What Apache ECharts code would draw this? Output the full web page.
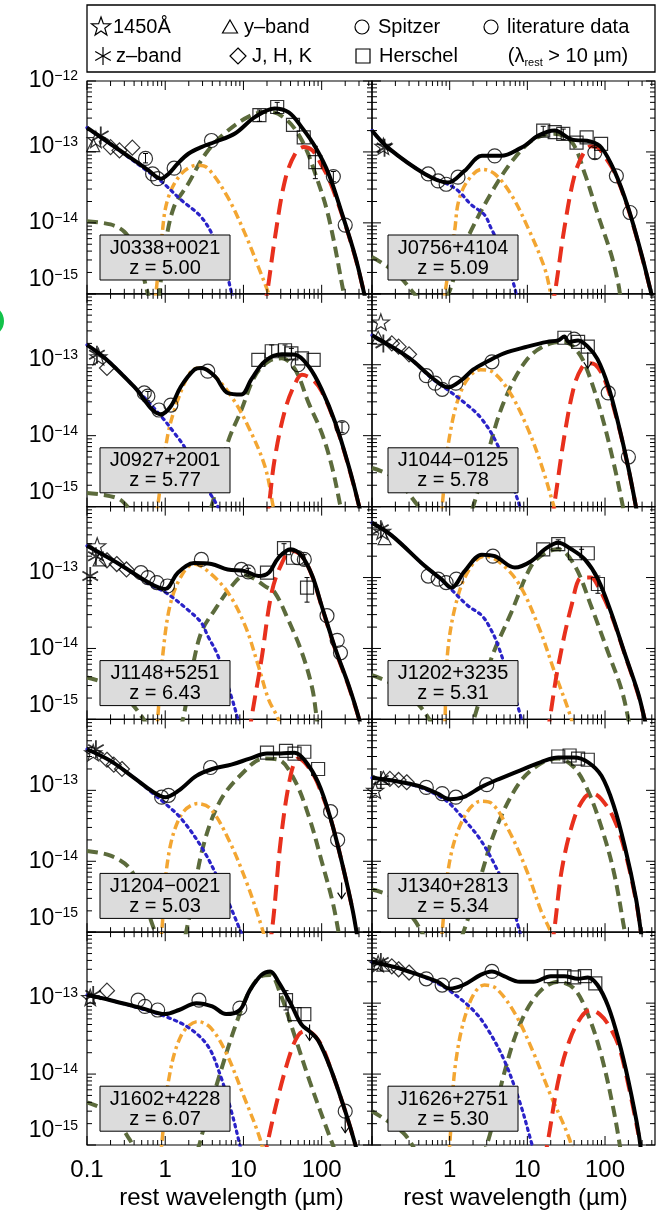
<!DOCTYPE html>
<html>
<head>
<meta charset="utf-8">
<script src="https://cdn.jsdelivr.net/npm/echarts@6/dist/echarts.min.js"></script>
<style>
  html, body { margin: 0; padding: 0; background: #fff; }
  #chart { width: 661px; height: 1213px; }
</style>
</head>
<body>
<div id="chart"></div>
<script>
// ---- axis ranges and tick labels ----
const X_MIN = 0.1, X_MAX = 440;          // rest wavelength (micron)
const Y_MIN = 1e-15, Y_MAX = 1e-12;      // nu F_nu
const xTickLabels = ['0.1', '1', '10', '100'];
const objectNames = ['J0338+0021', 'J0756+4104', 'J0927+2001', 'J1044\u22120125', 'J1148+5251',
                     'J1202+3235', 'J1204\u22120021', 'J1340+2813', 'J1602+4228', 'J1626+2751'];
const redshifts = ['5.00', '5.09', '5.77', '5.78', '6.43', '5.31', '5.03', '5.34', '6.07', '5.30'];

// ---- J0338+0021 ----
const j0338Total = [[0.1,2.2e-13],[0.3,9.5e-14],[0.6,5.6e-14],[0.88,4.2e-14],[1.1,4.9e-14],[1.45,6.9e-14],[2.0,9.5e-14],[2.9,1.17e-13],[4.3,1.38e-13],[7.8,1.82e-13],[14,3.1e-13],[25,4.1e-13],[38,3.6e-13],[56,2.2e-13],[83,1.17e-13],[123,4.9e-14],[182,1.35e-14],[270,3.3e-15],[350,1e-15],[400,5e-16]];
const j0338Disk = [[0.1,2.2e-13],[0.3,9.3e-14],[0.6,5.3e-14],[0.88,3.9e-14],[1.6,2.1e-14],[2.9,1.2e-14],[4.3,5.8e-15],[5.8,2.4e-15],[7.1,1e-15],[8,6e-16]];
const j0338Hot = [[0.72,6e-16],[0.76,1e-15],[0.9,6e-15],[1.07,2.1e-14],[1.6,4.9e-14],[2.6,6.5e-14],[3.5,5.9e-14],[6.3,2.3e-14],[10.5,7e-15],[15.5,2.4e-15],[21,1e-15],[24,6e-16]];
const j0338Torus = [[0.1,1.05e-14],[0.2,9.5e-15],[0.3,7.5e-15],[0.4,4.5e-15],[0.5,2.2e-15],[0.6,1e-15],[0.7,6e-16],[0.8,7e-16],[0.9,2e-15],[1.0,5e-15],[1.3,1.7e-14],[1.95,3.5e-14],[3.3,9.5e-14],[6,1.9e-13],[12,3.2e-13],[21,3.7e-13],[35,2.9e-13],[56,1.45e-13],[83,4.9e-14],[123,1.2e-14],[192,1e-15],[210,6e-16]];
const j0338Cold = [[18,6e-16],[20,1e-15],[25,5.7e-15],[34,4e-14],[46,9.5e-14],[59,1.17e-13],[76,1.05e-13],[100,6.5e-14],[123,4.2e-14],[182,1.3e-14],[270,3.2e-15],[350,1e-15]];
const j0338Star = [[0.13,1.5e-13]];
const j0338Zband = [[0.15,1.7e-13]];
const j0338Yband = [[0.12,1.25e-13]];
const j0338Jhk = [[0.2,1.17e-13],[0.26,1.05e-13],[0.38,1.15e-13]];
const j0338Circ = [[0.56,8.1e-14],[0.69,4.9e-14],[0.8,4.2e-14],[1.3,5.9e-14],[3.9,1.45e-13],[141,4.5e-14],[200,9.3e-15]];
const j0338Herschel = [[16,3.3e-13],[27,4.3e-13],[43,2.4e-13],[59,1.6e-13],[83,7.2e-14]];
const j0338Err = [[16,2.7e-13,3.9e-13],[27,3.6e-13,5e-13],[83,4.2e-14,1.2e-13],[141,3.8e-14,5.3e-14],[0.56,7e-14,9.5e-14]];
const j0338Lim = [];

// ---- J0756+4104 ----
const j0756Total = [[0.1,2e-13],[0.16,1.15e-13],[0.48,4.9e-14],[0.95,3.7e-14],[1.55,5.4e-14],[2.6,8.8e-14],[4.6,8.8e-14],[8.4,1.15e-13],[10,1.3e-13],[13.8,1.7e-13],[22.5,2e-13],[37,1.5e-13],[66,1.4e-13],[90,1.15e-13],[132,5.4e-14],[198,1.65e-14],[295,3.6e-15],[395,1e-15],[440,6e-16]];
const j0756Disk = [[0.1,2e-13],[0.16,1.15e-13],[0.48,4.9e-14],[0.95,3.5e-14],[1.3,2.8e-14],[1.9,1.8e-14],[2.8,1.3e-14],[3.4,8.5e-15],[5,3.5e-15],[6.9,1.2e-15],[7.5,7e-16]];
const j0756Hot = [[0.85,6e-16],[0.87,1e-15],[1.16,7.8e-15],[1.3,2e-14],[1.7,3.9e-14],[2.6,5.7e-14],[3.8,4.9e-14],[6.2,2.5e-14],[10.2,8.5e-15],[16.7,2.3e-15],[20,1e-15],[22,6e-16]];
const j0756Torus = [[0.1,3.3e-15],[0.2,2e-15],[0.35,1e-15],[0.5,6e-16],[0.8,7e-16],[1.0,1.1e-15],[1.3,2.8e-15],[1.8,7e-15],[3.8,3.2e-14],[6.9,8.3e-14],[12,1.5e-13],[22,1.8e-13],[37,1.4e-13],[55,4.9e-14],[81,1.3e-14],[120,3.6e-15],[148,1.4e-15],[160,8e-16]];
const j0756Cold = [[20,6e-16],[22.5,1e-15],[30,8.5e-15],[41,4.9e-14],[55,1.03e-13],[66,1.2e-13],[81,1.15e-13],[100,8.5e-14],[132,5.2e-14],[198,1.6e-14],[295,3.5e-15],[395,1e-15]];
const j0756Star = [[0.14,1.2e-13]];
const j0756Zband = [[0.145,1.15e-13]];
const j0756Yband = [];
const j0756Jhk = [];
const j0756Circ = [[0.53,4.9e-14],[0.71,3.9e-14],[0.9,3.5e-14],[1.28,4.4e-14],[3.8,8.8e-14],[74,9.8e-14],[140,4.6e-14],[210,1.4e-14]];
const j0756Herschel = [[16,2e-13],[22.5,1.9e-13],[29,1.8e-13],[43,1.35e-13],[58,1.6e-13],[89,1.3e-13]];
const j0756Err = [[16,1.7e-13,2.3e-13],[29,1.5e-13,2.1e-13],[74,8e-14,1.15e-13]];
const j0756Lim = [];

// ---- J0927+2001 ----
const j0927Total = [[0.1,1.9e-13],[0.18,1.17e-13],[0.4,4.9e-14],[0.88,2e-14],[1.18,2.6e-14],[1.58,4.9e-14],[2.35,8.5e-14],[2.9,9e-14],[4.3,6.9e-14],[6.3,4e-14],[9.4,3.8e-14],[12.6,6.2e-14],[18.8,1.12e-13],[31,1.4e-13],[46,1.38e-13],[68,9.5e-14],[100,4.5e-14],[150,1.5e-14],[222,3.7e-15],[302,1e-15],[330,6e-16]];
const j0927Disk = [[0.1,1.9e-13],[0.18,1.17e-13],[0.4,4.9e-14],[0.88,1.9e-14],[1.3,1.1e-14],[1.75,7e-15],[2.9,2.4e-15],[4.7,1e-15],[5.5,6e-16]];
const j0927Hot = [[0.75,6e-16],[0.8,1e-15],[1.07,9.8e-15],[1.45,3.2e-14],[2.15,8.1e-14],[2.9,9e-14],[4.3,6.9e-14],[7.1,3.5e-14],[11.5,1.35e-14],[18.8,3.7e-15],[24,1e-15],[26,6e-16]];
const j0927Torus = [[0.1,1.55e-15],[0.25,1.3e-15],[0.4,8e-16],[1,4e-16],[3,5e-16],[3.9,1e-15],[6.3,8e-15],[9.4,2.3e-14],[14,6.9e-14],[21,1.12e-13],[31,1.23e-13],[46,8.5e-14],[68,2.9e-14],[100,1.1e-14],[135,3.7e-15],[174,1e-15],[190,6e-16]];
const j0927Cold = [[19,6e-16],[21,1e-15],[25,4.6e-15],[34,2.3e-14],[46,5.5e-14],[56,7.2e-14],[76,6.2e-14],[100,4.2e-14],[150,1.45e-14],[222,3.6e-15],[302,1e-15]];
const j0927Star = [[0.14,1.3e-13]];
const j0927Zband = [[0.134,1.38e-13]];
const j0927Yband = [];
const j0927Jhk = [[0.18,9e-14]];
const j0927Circ = [[0.54,4e-14],[0.6,3.6e-14],[0.83,2.3e-14],[1.18,2.7e-14],[3.5,8.1e-14],[50,1e-13],[182,1.3e-14]];
const j0927Herschel = [[15.5,1.17e-13],[23,1.55e-13],[34,1.6e-13],[41,1.45e-13],[56,1.23e-13],[79,1.17e-13]];
const j0927Err = [[23,1.3e-13,1.9e-13],[34,1.35e-13,1.9e-13],[41,1.2e-13,1.7e-13],[182,1.1e-14,1.55e-14],[0.6,3.1e-14,4.2e-14]];
const j0927Lim = [];

// ---- J1044-0125 ----
const j1044Total = [[0.1,2.6e-13],[0.3,1.25e-13],[0.6,6.5e-14],[0.95,4.8e-14],[1.4,6e-14],[2,8.5e-14],[3,1.1e-13],[5,1.45e-13],[10,1.8e-13],[18,2.1e-13],[25,2.2e-13],[30,2.5e-13],[34,2.1e-13],[45,2.2e-13],[60,1.8e-13],[80,1.2e-13],[110,5e-14],[150,1.4e-14],[200,3.5e-15],[250,1e-15],[270,6e-16]];
const j1044Disk = [[0.1,2.6e-13],[0.3,1.25e-13],[0.6,6.3e-14],[0.95,4.4e-14],[1.5,3e-14],[2.5,1.8e-14],[4,8e-15],[6,2.5e-15],[8,1e-15],[9,6e-16]];
const j1044Hot = [[0.78,6e-16],[0.8,1e-15],[1.0,1e-14],[1.5,5e-14],[2.5,8.5e-14],[3.5,8e-14],[6,4e-14],[10,1.3e-14],[15,4e-15],[22,1e-15],[25,6e-16]];
const j1044Torus = [[0.1,3.5e-15],[0.2,2.5e-15],[0.4,1e-15],[0.6,6e-16],[1.5,5e-16],[2,1e-15],[3,5e-15],[5,3e-14],[10,1.2e-13],[20,2e-13],[30,2.1e-13],[45,1.5e-13],[60,8e-14],[90,2e-14],[130,4e-15],[170,1e-15],[185,6e-16]];
const j1044Cold = [[20,6e-16],[22,1e-15],[30,1e-14],[40,5e-14],[50,9e-14],[60,1.05e-13],[75,1e-13],[100,6e-14],[150,1.35e-14],[200,3.4e-15],[250,1e-15]];
const j1044Star = [[0.13,4e-13]];
const j1044Zband = [[0.14,2e-13]];
const j1044Yband = [[0.12,2.4e-13]];
const j1044Jhk = [[0.18,2e-13],[0.22,1.8e-13],[0.3,1.4e-13]];
const j1044Circ = [[0.5,7e-14],[0.65,5.5e-14],[0.8,4.5e-14],[1.2,5.5e-14],[3.5,1.1e-13],[40,2.3e-13],[110,4e-14],[200,5e-15]];
const j1044Herschel = [[30,2.4e-13],[45,2.1e-13],[60,1.8e-13]];
const j1044Err = [];
const j1044Lim = [[60,1.5e-13]];

// ---- J1148+5251 ----
const j1148Total = [[0.1,2.8e-13],[0.245,1.6e-13],[0.66,8.1e-14],[1,6.9e-14],[1.45,1.17e-13],[2.35,1.6e-13],[3.9,1.55e-13],[6.3,1.3e-13],[10.5,1.23e-13],[15.5,1.05e-13],[21,1.17e-13],[28,1.9e-13],[40,2.5e-13],[56,2e-13],[76,1.05e-13],[100,4e-14],[150,9.8e-15],[222,3e-15],[302,1e-15],[330,6e-16]];
const j1148Disk = [[0.1,2.8e-13],[0.245,1.6e-13],[0.66,7.8e-14],[1,6.2e-14],[1.95,3.5e-14],[2.9,2.3e-14],[3.5,1.5e-14],[4.7,8e-15],[7.1,2e-15],[8.5,1e-15],[9.5,6e-16]];
const j1148Hot = [[0.78,6e-16],[0.8,1e-15],[0.95,1e-14],[1.18,4.5e-14],[1.66,1.12e-13],[2.35,1.55e-13],[3.5,1.23e-13],[6.3,6.2e-14],[10.5,2.1e-14],[15.5,5.7e-15],[21,1.9e-15],[28,1e-15],[31,6e-16]];
const j1148Torus = [[0.1,3.9e-15],[0.2,3e-15],[0.35,1.8e-15],[0.5,1.1e-15],[0.72,6e-16],[1.2,4e-16],[1.6,8e-16],[2.2,5e-15],[2.9,1.7e-14],[4.3,3.5e-14],[7.1,7.6e-14],[10.5,1.08e-13],[14,9.5e-14],[19,7.5e-14],[25,6.2e-14],[37,2.6e-14],[56,8.7e-15],[76,2.7e-15],[87,1e-15],[95,6e-16]];
const j1148Cold = [[12,6e-16],[12.6,1e-15],[17,7e-15],[23,6.2e-14],[31,1.6e-13],[41,2.4e-13],[56,2e-13],[76,1.03e-13],[100,3.9e-14],[150,9.5e-15],[222,2.9e-15],[302,1e-15]];
const j1148Star = [[0.135,2.8e-13]];
const j1148Zband = [[0.11,1.05e-13],[0.13,2e-13]];
const j1148Yband = [[0.145,1.8e-13]];
const j1148Jhk = [[0.18,1.75e-13],[0.24,1.55e-13],[0.32,1.3e-13]];
const j1148Circ = [[0.49,1.17e-13],[0.6,1e-13],[0.78,8.5e-14],[1.07,7.6e-14],[2.9,1.8e-13],[9.4,1.3e-13],[11.5,1.2e-13],[50,1.9e-13],[60,1.8e-13],[117,2.9e-14],[158,1.3e-14],[174,8.7e-15]];
const j1148Herschel = [[20,1.17e-13],[33,2.6e-13],[43,1.9e-13],[65,7.2e-14]];
const j1148Err = [[33,2.2e-13,3e-13],[65,4.5e-14,1e-13],[60,1.5e-13,2.1e-13],[11.5,1.05e-13,1.35e-13]];
const j1148Lim = [];

// ---- J1202+3235 ----
const j1202Total = [[0.1,5.9e-13],[0.18,3.9e-13],[0.48,1.45e-13],[0.78,9.5e-14],[1.05,7.2e-14],[1.56,1.23e-13],[2.6,2.1e-13],[3.8,2e-13],[6.9,1.38e-13],[11.2,1.7e-13],[16.7,2.5e-13],[25,3.1e-13],[37,2.5e-13],[55,1.8e-13],[81,9.5e-14],[120,3.2e-14],[178,8.7e-15],[265,2.4e-15],[324,1e-15],[360,6e-16]];
const j1202Disk = [[0.1,5.9e-13],[0.18,3.9e-13],[0.48,1.45e-13],[0.78,9.3e-14],[1.05,6.8e-14],[1.72,4e-14],[2.6,2.9e-14],[3.4,1.85e-14],[4.2,1.1e-14],[6.2,3e-15],[8.4,1e-15],[9,6e-16]];
const j1202Hot = [[0.85,6e-16],[0.87,1e-15],[0.95,9.8e-15],[1.28,5.5e-14],[1.9,1.45e-13],[2.8,2e-13],[4.2,1.7e-13],[7.6,8.5e-14],[13.8,2.1e-14],[22.5,4.6e-15],[37,1e-15],[40,6e-16]];
const j1202Torus = [[0.1,4.2e-15],[0.2,3e-15],[0.4,1.6e-15],[0.78,6e-16],[1.5,4e-16],[2.1,1.1e-15],[3.4,7e-15],[6.2,3.2e-14],[11.2,1.45e-13],[16.7,2.2e-13],[25,2.5e-13],[41,1.45e-13],[66,4e-14],[110,8.7e-15],[162,2.7e-15],[200,1e-15],[215,6e-16]];
const j1202Cold = [[18,6e-16],[19.4,1e-15],[25,5.7e-15],[37,4e-14],[50,1e-13],[66,1e-13],[81,7.6e-14],[120,3e-14],[178,8.5e-15],[265,2.3e-15],[324,1e-15]];
const j1202Star = [[0.135,4.5e-13]];
const j1202Zband = [[0.13,4.8e-13]];
const j1202Yband = [[0.145,3.6e-13]];
const j1202Jhk = [];
const j1202Circ = [[0.53,1.05e-13],[0.71,9.5e-14],[0.9,8.5e-14],[1.22,9.5e-14],[3.6,2e-13]];
const j1202Herschel = [[16,2.5e-13],[25,2.95e-13],[41,2.2e-13],[60,2.2e-13],[81,8.1e-14]];
const j1202Err = [[25,2.6e-13,3.4e-13],[50,1.9e-13,2.5e-13],[81,6e-14,1.05e-13]];
const j1202Lim = [];

// ---- J1204-0021 ----
const j1204Total = [[0.1,3.8e-13],[0.2,2.6e-13],[0.4,1.5e-13],[0.7,9.5e-14],[1.0,8e-14],[1.5,1e-13],[2.5,1.6e-13],[4,2e-13],[7,2.3e-13],[12,2.8e-13],[20,3.3e-13],[30,3.3e-13],[45,3.4e-13],[60,2.7e-13],[90,1.3e-13],[130,4e-14],[180,1e-14],[250,2e-15],[300,6e-16]];
const j1204Disk = [[0.1,3.8e-13],[0.2,2.6e-13],[0.4,1.5e-13],[0.7,9e-14],[1,6.5e-14],[1.6,4e-14],[3,1.5e-14],[5,5e-15],[8,1.5e-15],[10,8e-16]];
const j1204Hot = [[0.85,6e-16],[0.9,1e-15],[1.1,1.2e-14],[1.6,4.5e-14],[2.6,6.5e-14],[3.8,5.5e-14],[6.5,2e-14],[11,5e-15],[16,1.5e-15],[19,8e-16]];
const j1204Torus = [[0.1,1.4e-14],[0.2,1.2e-14],[0.35,8e-15],[0.5,3.5e-15],[0.7,1.2e-15],[0.9,6e-16],[1.4,5e-16],[2,1.5e-15],[3,1.5e-14],[5,7e-14],[10,1.8e-13],[18,2.8e-13],[28,2.7e-13],[45,1.4e-13],[70,4e-14],[100,1e-14],[140,2.5e-15],[170,8e-16]];
const j1204Cold = [[20,6e-16],[23,1e-15],[30,2e-14],[40,1.6e-13],[50,2.8e-13],[60,2.5e-13],[80,1.6e-13],[100,9e-14],[130,4e-14],[180,1e-14],[250,2e-15]];
const j1204Star = [[0.12,3.4e-13]];
const j1204Zband = [[0.13,3.8e-13]];
const j1204Yband = [];
const j1204Jhk = [[0.18,2.7e-13],[0.22,2.3e-13],[0.28,2e-13]];
const j1204Circ = [[0.9,8e-14],[1.1,8.5e-14],[3.8,2.1e-13],[130,5e-14],[160,2e-14]];
const j1204Herschel = [[20,3.4e-13],[35,3.6e-13],[45,3.3e-13],[60,3.5e-13],[90,2e-13]];
const j1204Err = [];
const j1204Lim = [[180,5e-15]];

// ---- J1340+2813 ----
const j1340Total = [[0.1,1.5e-13],[0.2,1.35e-13],[0.4,1.15e-13],[0.7,9e-14],[1.0,7.5e-14],[1.5,8e-14],[2.5,1.1e-13],[4,1.4e-13],[8,1.9e-13],[15,2.5e-13],[25,2.9e-13],[40,2.9e-13],[60,2.5e-13],[90,1.6e-13],[130,6e-14],[180,1.6e-14],[250,3e-15],[290,1e-15],[310,6e-16]];
const j1340Disk = [[0.1,1.5e-13],[0.2,1.35e-13],[0.4,1.12e-13],[0.7,8.5e-14],[1,6.5e-14],[1.5,4e-14],[2.5,2e-14],[4,8e-15],[6,3e-15],[8,1e-15],[9,6e-16]];
const j1340Hot = [[0.78,6e-16],[0.8,1e-15],[1.0,1e-14],[1.5,4e-14],[2.5,7e-14],[3.5,6.5e-14],[6,2.5e-14],[10,7e-15],[15,2e-15],[20,1e-15],[22,6e-16]];
const j1340Torus = [[0.1,4e-15],[0.2,3e-15],[0.35,1.5e-15],[0.5,8e-16],[1,4e-16],[1.5,1e-15],[2.5,6e-15],[4,3e-14],[8,1.3e-13],[15,2.4e-13],[25,2.8e-13],[40,2.1e-13],[60,1e-13],[90,3e-14],[130,7e-15],[180,1e-15],[195,6e-16]];
const j1340Cold = [[20,6e-16],[22,1e-15],[28,8e-15],[40,4e-14],[55,8e-14],[70,9e-14],[90,7.5e-14],[130,4e-14],[180,1.4e-14],[250,2.8e-15],[290,1e-15]];
const j1340Star = [[0.11,1e-13]];
const j1340Zband = [[0.13,1.4e-13]];
const j1340Yband = [[0.14,1.5e-13]];
const j1340Jhk = [[0.17,1.45e-13],[0.22,1.4e-13],[0.28,1.3e-13]];
const j1340Circ = [[0.5,1.1e-13],[0.8,9e-14],[1.2,8e-14],[3,1.2e-13]];
const j1340Herschel = [[25,3e-13],[35,3.1e-13],[45,2.8e-13],[60,2.7e-13]];
const j1340Err = [];
const j1340Lim = [];

// ---- J1602+4228 ----
const j1602Total = [[0.1,1.3e-13],[0.2,1.1e-13],[0.5,8.5e-14],[1,7e-14],[1.5,8e-14],[2.5,1e-13],[4,9e-14],[6,7e-14],[9,8e-14],[12,1.5e-13],[17,2.5e-13],[22,2.8e-13],[28,2e-13],[40,1e-13],[55,5e-14],[70,4e-14],[90,3e-14],[130,1.2e-14],[200,3e-15],[270,1e-15],[300,6e-16]];
const j1602Disk = [[0.1,1.3e-13],[0.2,1.1e-13],[0.5,8.3e-14],[1,6.5e-14],[2,4.5e-14],[3.5,2.5e-14],[5,1e-14],[7,3e-15],[9,1e-15],[10,6e-16]];
const j1602Hot = [[0.85,6e-16],[0.9,1e-15],[1.1,8e-15],[1.6,3.5e-14],[2.6,5.5e-14],[3.8,4.5e-14],[6,2e-14],[10,5e-15],[16,1.3e-15],[19,6e-16]];
const j1602Torus = [[0.1,4e-15],[0.2,2.8e-15],[0.35,1.2e-15],[0.5,6e-16],[1.5,4e-16],[2.5,8e-16],[3,1.5e-15],[5,1e-14],[8,5e-14],[12,1.5e-13],[17,2.4e-13],[22,2.5e-13],[30,1.3e-13],[45,3.5e-14],[70,8e-15],[110,2e-15],[150,8e-16]];
const j1602Cold = [[18,6e-16],[20,1e-15],[28,5e-15],[40,2e-14],[50,3.5e-14],[60,4e-14],[75,3.8e-14],[100,2.5e-14],[130,1.2e-14],[200,3e-15],[270,1e-15]];
const j1602Star = [[0.11,1.2e-13]];
const j1602Zband = [[0.12,1.3e-13]];
const j1602Yband = [];
const j1602Jhk = [[0.18,1.5e-13]];
const j1602Circ = [[0.45,1.1e-13],[0.55,9e-14],[0.8,8e-14],[2.7,1.1e-13],[9,8.5e-14],[200,3e-15]];
const j1602Herschel = [[35,1.1e-13],[45,7e-14],[60,7e-14]];
const j1602Err = [[35,8e-14,1.5e-13]];
const j1602Lim = [[70,5e-14],[200,2.5e-15]];

// ---- J1626+2751 ----
const j1626Total = [[0.1,3.8e-13],[0.2,3.2e-13],[0.4,2.5e-13],[0.7,2e-13],[1.0,1.6e-13],[1.5,1.8e-13],[2.5,2.5e-13],[3.5,2.8e-13],[5,2.4e-13],[8,2e-13],[12,2e-13],[20,2.4e-13],[30,2.4e-13],[45,2.2e-13],[60,2.3e-13],[80,1.8e-13],[110,9e-14],[150,3e-14],[200,8e-15],[270,1.5e-15],[300,6e-16]];
const j1626Disk = [[0.1,3.8e-13],[0.2,3.2e-13],[0.4,2.5e-13],[0.7,1.9e-13],[1,1.5e-13],[2,8e-14],[3,4.5e-14],[5,1.6e-14],[8,4e-15],[11,1.2e-15],[13,6e-16]];
const j1626Hot = [[0.95,6e-16],[1.0,1e-15],[1.2,1.5e-14],[1.8,1e-13],[2.8,1.8e-13],[4,1.6e-13],[7,7e-14],[12,2e-14],[20,5e-15],[35,1.2e-15],[40,6e-16]];
const j1626Torus = [[0.1,3e-15],[0.25,1.5e-15],[0.5,6e-16],[2,5e-16],[3,1e-15],[5,1e-14],[8,5e-14],[14,1.4e-13],[25,2e-13],[40,1.6e-13],[60,7e-14],[90,1.8e-14],[130,3e-15],[160,8e-16]];
const j1626Cold = [[16,6e-16],[18,1e-15],[25,8e-15],[35,3e-14],[50,6.5e-14],[65,8e-14],[85,7e-14],[110,5e-14],[150,2.5e-14],[200,7e-15],[270,1.4e-15]];
const j1626Star = [[0.12,3.6e-13]];
const j1626Zband = [[0.13,3.8e-13]];
const j1626Yband = [[0.14,3.5e-13]];
const j1626Jhk = [[0.18,3.3e-13],[0.22,3e-13],[0.3,2.7e-13]];
const j1626Circ = [[0.5,2.2e-13],[0.8,1.8e-13],[1.2,1.8e-13],[3.5,2.8e-13]];
const j1626Herschel = [[20,2.4e-13],[30,2.4e-13],[40,2.3e-13],[55,2.4e-13],[75,1.9e-13]];
const j1626Err = [];
const j1626Lim = [];

// panel table assembled from the arrays above
const panels = [
  {total:j0338Total, disk:j0338Disk, hot:j0338Hot, torus:j0338Torus, cold:j0338Cold, star:j0338Star, zband:j0338Zband, yband:j0338Yband, jhk:j0338Jhk, circ:j0338Circ, herschel:j0338Herschel, err:j0338Err, lim:j0338Lim},
  {total:j0756Total, disk:j0756Disk, hot:j0756Hot, torus:j0756Torus, cold:j0756Cold, star:j0756Star, zband:j0756Zband, yband:j0756Yband, jhk:j0756Jhk, circ:j0756Circ, herschel:j0756Herschel, err:j0756Err, lim:j0756Lim},
  {total:j0927Total, disk:j0927Disk, hot:j0927Hot, torus:j0927Torus, cold:j0927Cold, star:j0927Star, zband:j0927Zband, yband:j0927Yband, jhk:j0927Jhk, circ:j0927Circ, herschel:j0927Herschel, err:j0927Err, lim:j0927Lim},
  {total:j1044Total, disk:j1044Disk, hot:j1044Hot, torus:j1044Torus, cold:j1044Cold, star:j1044Star, zband:j1044Zband, yband:j1044Yband, jhk:j1044Jhk, circ:j1044Circ, herschel:j1044Herschel, err:j1044Err, lim:j1044Lim},
  {total:j1148Total, disk:j1148Disk, hot:j1148Hot, torus:j1148Torus, cold:j1148Cold, star:j1148Star, zband:j1148Zband, yband:j1148Yband, jhk:j1148Jhk, circ:j1148Circ, herschel:j1148Herschel, err:j1148Err, lim:j1148Lim},
  {total:j1202Total, disk:j1202Disk, hot:j1202Hot, torus:j1202Torus, cold:j1202Cold, star:j1202Star, zband:j1202Zband, yband:j1202Yband, jhk:j1202Jhk, circ:j1202Circ, herschel:j1202Herschel, err:j1202Err, lim:j1202Lim},
  {total:j1204Total, disk:j1204Disk, hot:j1204Hot, torus:j1204Torus, cold:j1204Cold, star:j1204Star, zband:j1204Zband, yband:j1204Yband, jhk:j1204Jhk, circ:j1204Circ, herschel:j1204Herschel, err:j1204Err, lim:j1204Lim},
  {total:j1340Total, disk:j1340Disk, hot:j1340Hot, torus:j1340Torus, cold:j1340Cold, star:j1340Star, zband:j1340Zband, yband:j1340Yband, jhk:j1340Jhk, circ:j1340Circ, herschel:j1340Herschel, err:j1340Err, lim:j1340Lim},
  {total:j1602Total, disk:j1602Disk, hot:j1602Hot, torus:j1602Torus, cold:j1602Cold, star:j1602Star, zband:j1602Zband, yband:j1602Yband, jhk:j1602Jhk, circ:j1602Circ, herschel:j1602Herschel, err:j1602Err, lim:j1602Lim},
  {total:j1626Total, disk:j1626Disk, hot:j1626Hot, torus:j1626Torus, cold:j1626Cold, star:j1626Star, zband:j1626Zband, yband:j1626Yband, jhk:j1626Jhk, circ:j1626Circ, herschel:j1626Herschel, err:j1626Err, lim:j1626Lim}
];

// ---- layout and styles ----
const FONT = "'Liberation Sans', Arial, Helvetica, sans-serif";
const GRID_LEFT = [87, 372], GRID_W = [285, 283];
const ROW_TOP = 81, ROW_H = 212.8;
const TOP_Z = 200;

const MODEL_STYLE = {
  torus: { color: '#5c6b3c', width: 4,   type: [11, 6] },
  hot:   { color: '#f3a632', width: 3.5, type: [9, 4, 3, 4] },
  disk:  { color: '#2a22c8', width: 3.2, type: [2.5, 4.5] },
  cold:  { color: '#e8301d', width: 4,   type: [16, 8] },
  total: { color: '#000000', width: 4,   type: 'solid' }
};

const STAR_PATH = 'path://M0,-10L2.35,-3.24L9.51,-3.09L3.8,1.24L5.88,8.09L0,4.2L-5.88,8.09L-3.8,1.24L-9.51,-3.09L-2.35,-3.24Z';
const AST_PATH = 'path://M0,-10L0,10M-8.66,-5L8.66,5M-8.66,5L8.66,-5';
const MARKERS = {
  star:     { symbol: STAR_PATH, size: 17, bw: 1.2 },
  zband:    { symbol: AST_PATH, size: 18, bw: 1.8 },
  yband:    { symbol: 'triangle', size: 13, bw: 1.2 },
  jhk:      { symbol: 'diamond', size: 15, bw: 1.2 },
  circ:     { symbol: 'circle', size: 14, bw: 1.2 },
  herschel: { symbol: 'rect', size: 13, bw: 1.2 }
};

// tick positions: decades and the 2..9 multiples in between
function logTicks(lo, hi) {
  const out = [];
  for (let e = Math.floor(Math.log10(lo)); e <= Math.ceil(Math.log10(hi)); e++) {
    for (let m = 1; m <= 9; m++) {
      const v = m * Math.pow(10, e);
      if (v >= lo * 0.999 && v <= hi * 1.001) out.push([v, m === 1 ? 1 : 0]);
    }
  }
  return out;
}
const xTicks = logTicks(X_MIN, X_MAX);
const yTicks = logTicks(Y_MIN, Y_MAX);

function isDecade(v) {
  const l = Math.log10(v);
  return Math.abs(l - Math.round(l)) < 1e-6 ? Math.round(l) : null;
}

function tickRenderer(axisDir) {
  return function (params, api) {
    const cs = params.coordSys;
    const major = api.value(2) === 1;
    const len = major ? 9 : 5;
    const p = api.coord([api.value(0), api.value(1)]);
    const st = { stroke: '#000', lineWidth: 1 };
    if (axisDir === 'x') {
      return { type: 'group', children: [
        { type: 'line', shape: { x1: p[0], y1: cs.y + cs.height, x2: p[0], y2: cs.y + cs.height - len }, style: st },
        { type: 'line', shape: { x1: p[0], y1: cs.y, x2: p[0], y2: cs.y + len }, style: st }
      ]};
    }
    return { type: 'group', children: [
      { type: 'line', shape: { x1: cs.x, y1: p[1], x2: cs.x + len, y2: p[1] }, style: st },
      { type: 'line', shape: { x1: cs.x + cs.width, y1: p[1], x2: cs.x + cs.width - len, y2: p[1] }, style: st }
    ]};
  };
}

function errRender(params, api) {
  const a = api.coord([api.value(0), api.value(1)]);
  const b = api.coord([api.value(0), api.value(2)]);
  const st = { stroke: '#000', lineWidth: 1 };
  return { type: 'group', children: [
    { type: 'line', shape: { x1: a[0], y1: a[1], x2: b[0], y2: b[1] }, style: st },
    { type: 'line', shape: { x1: a[0] - 2.5, y1: a[1], x2: a[0] + 2.5, y2: a[1] }, style: st },
    { type: 'line', shape: { x1: b[0] - 2.5, y1: b[1], x2: b[0] + 2.5, y2: b[1] }, style: st }
  ]};
}

function limRender(params, api) {
  const p = api.coord([api.value(0), api.value(1)]);
  const st = { stroke: '#000', lineWidth: 1.2, fill: null };
  return { type: 'group', children: [
    { type: 'line', shape: { x1: p[0], y1: p[1], x2: p[0], y2: p[1] + 16 }, style: st },
    { type: 'polyline', shape: { points: [[p[0] - 4, p[1] + 10], [p[0], p[1] + 16], [p[0] + 4, p[1] + 10]] }, style: st }
  ]};
}

const grids = [], xAxes = [], yAxes = [], series = [], graphics = [];
const txt = (x, y, t, extra) => Object.assign({ type: 'text', x, y, z: TOP_Z + 1,
  style: { text: t, fontSize: 20, fontFamily: FONT, fill: '#000', verticalAlign: 'middle' } }, extra || {});

panels.forEach((p, i) => {
  const col = i % 2, row = Math.floor(i / 2);
  const left = GRID_LEFT[col], top = ROW_TOP + row * ROW_H, w = GRID_W[col];
  grids.push({ left, top, width: w, height: ROW_H, show: true, borderColor: '#000', borderWidth: 1.2, backgroundColor: 'transparent' });

  xAxes.push({
    type: 'log', logBase: 10, gridIndex: i, min: X_MIN, max: X_MAX,
    axisLine: { show: false }, axisTick: { show: false }, splitLine: { show: false },
    axisLabel: {
      show: row === 4, margin: 13, color: '#000', fontSize: 24, fontFamily: FONT,
      showMinLabel: true, showMaxLabel: false,
      formatter: (v) => {
        const e = isDecade(v);
        if (e === null) return '';
        if (col === 1 && e === -1) return '';
        return xTickLabels[e + 1] || '';
      }
    }
  });

  yAxes.push({
    type: 'log', logBase: 10, gridIndex: i, min: Y_MIN, max: Y_MAX,
    axisLine: { show: false }, axisTick: { show: false }, splitLine: { show: false },
    axisLabel: {
      show: col === 0, margin: 9, showMinLabel: true, showMaxLabel: true,
      formatter: (v) => {
        const e = isDecade(v);
        if (e === null) return '';
        if (e === -12 && row > 0) return '';
        const lbl = '{b|10}{e|\u2212' + (-e) + '}';
        if (e === -15) return lbl + '\n{g15| }';
        if (e === -13) return lbl + '\n{g13| }';
        return lbl;
      },
      rich: {
        b: { fontSize: 23, lineHeight: 24, color: '#000', fontFamily: FONT },
        e: { fontSize: 14, lineHeight: 14, verticalAlign: 'top', color: '#000', fontFamily: FONT },
        g15: { fontSize: 2, lineHeight: 28 },
        g13: { fontSize: 2, lineHeight: 10 }
      }
    }
  });

  // model components
  ['torus', 'hot', 'disk', 'cold', 'total'].forEach((k) => {
    const s = MODEL_STYLE[k];
    series.push({
      type: 'line', xAxisIndex: i, yAxisIndex: i, data: p[k], smooth: 0.35,
      showSymbol: false, silent: true, clip: true, z: k === 'total' ? 4 : 3,
      lineStyle: { color: s.color, width: s.width, type: s.type, cap: k === 'disk' ? 'round' : 'butt' }
    });
  });

  // photometry
  Object.keys(MARKERS).forEach((k) => {
    if (!p[k].length) return;
    series.push({
      type: 'scatter', xAxisIndex: i, yAxisIndex: i, data: p[k], silent: true, z: 5,
      symbol: MARKERS[k].symbol, symbolSize: MARKERS[k].size, symbolKeepAspect: true,
      itemStyle: { color: 'rgba(0,0,0,0)', borderColor: '#000', borderWidth: MARKERS[k].bw }
    });
  });

  if (p.err.length) series.push({ type: 'custom', xAxisIndex: i, yAxisIndex: i, data: p.err, renderItem: errRender, encode: { x: 0, y: [1, 2] }, silent: true, z: 5 });
  if (p.lim.length) series.push({ type: 'custom', xAxisIndex: i, yAxisIndex: i, data: p.lim, renderItem: limRender, encode: { x: 0, y: 1 }, silent: true, z: 5 });

  // axis ticks on all four sides
  series.push({ type: 'custom', xAxisIndex: i, yAxisIndex: i, silent: true, z: 6,
    data: xTicks.map(t => [t[0], Y_MIN, t[1]]), renderItem: tickRenderer('x'), encode: { x: 0, y: 1 } });
  series.push({ type: 'custom', xAxisIndex: i, yAxisIndex: i, silent: true, z: 6,
    data: yTicks.map(t => [X_MIN, t[0], t[1]]), renderItem: tickRenderer('y'), encode: { x: 0, y: 1 } });

  // object name box
  const bx = left + (col === 0 ? 13 : 16), by = top + 154;
  graphics.push({ type: 'rect', z: TOP_Z, shape: { x: bx, y: by, width: 130, height: 45 }, style: { fill: '#dcdcdc', stroke: '#000', lineWidth: 1 } });
  graphics.push(txt(bx + 65, by + 13, objectNames[i], {}));
  graphics.push(txt(bx + 65, by + 33, 'z = ' + redshifts[i], {}));
  graphics[graphics.length - 1].style.align = 'center';
  graphics[graphics.length - 2].style.align = 'center';
});

// x-axis titles
[0, 1].forEach((col) => {
  const t = txt(GRID_LEFT[col] + GRID_W[col] / 2 + 2, 1198, 'rest wavelength (\u00b5m)');
  t.style.fontSize = 24; t.style.align = 'center';
  graphics.push(t);
});

// symbol key at the top
function starPts(cx, cy, R, r) {
  const pts = [];
  for (let k = 0; k < 10; k++) {
    const a = -Math.PI / 2 + k * Math.PI / 5, rr = k % 2 ? r : R;
    pts.push([cx + rr * Math.cos(a), cy + rr * Math.sin(a)]);
  }
  return pts;
}
const keySt = { stroke: '#000', lineWidth: 1.2, fill: 'none' };
const R1 = 27, R2 = 56;
graphics.push(
  { type: 'rect', z: TOP_Z, shape: { x: 87, y: 5, width: 568, height: 67 }, style: { fill: '#fff', stroke: '#000', lineWidth: 1.3 } },
  { type: 'polygon', z: TOP_Z + 1, shape: { points: starPts(101, R1, 10, 4) }, style: keySt },
  txt(113, R1, '1450\u00c5'),
  { type: 'polygon', z: TOP_Z + 1, shape: { points: [[230, R1 - 7], [237.5, R1 + 6], [222.5, R1 + 6]] }, style: keySt },
  txt(244, R1, 'y\u2013band'),
  { type: 'circle', z: TOP_Z + 1, shape: { cx: 362, cy: R1, r: 7 }, style: keySt },
  txt(378, R1, 'Spitzer'),
  { type: 'circle', z: TOP_Z + 1, shape: { cx: 491, cy: R1, r: 7 }, style: keySt },
  txt(507, R1, 'literature data'),
  { type: 'line', z: TOP_Z + 1, shape: { x1: 103, y1: R2 - 9, x2: 103, y2: R2 + 9 }, style: keySt },
  { type: 'line', z: TOP_Z + 1, shape: { x1: 95.2, y1: R2 - 4.5, x2: 110.8, y2: R2 + 4.5 }, style: keySt },
  { type: 'line', z: TOP_Z + 1, shape: { x1: 95.2, y1: R2 + 4.5, x2: 110.8, y2: R2 - 4.5 }, style: keySt },
  txt(116, R2, 'z\u2013band'),
  { type: 'polygon', z: TOP_Z + 1, shape: { points: [[238, R2 - 8], [246, R2], [238, R2 + 8], [230, R2]] }, style: keySt },
  txt(252, R2, 'J, H, K'),
  { type: 'rect', z: TOP_Z + 1, shape: { x: 356, y: R2 - 7, width: 14, height: 14 }, style: keySt },
  txt(379, R2, 'Herschel'),
  { type: 'text', x: 568, y: R2, z: TOP_Z + 1, style: { text: '({l|\u03bb}{s|rest}{l| > 10 \u00b5m})', align: 'center', verticalAlign: 'middle',
      rich: { l: { fontSize: 20, fontFamily: FONT, fill: '#000', lineHeight: 24 },
              s: { fontSize: 11, fontFamily: FONT, fill: '#000', lineHeight: 24, verticalAlign: 'bottom' } },
      fontSize: 20, fontFamily: FONT, fill: '#000' } }
);

// small green ring at the left margin
graphics.push({ type: 'circle', z: TOP_Z, shape: { cx: -12, cy: 321, r: 14 }, style: { stroke: '#12c24a', lineWidth: 4, fill: 'none' } });

const chart = echarts.init(document.getElementById('chart'), null, { renderer: 'canvas' });
chart.setOption({
  animation: false,
  backgroundColor: '#fff',
  grid: grids, xAxis: xAxes, yAxis: yAxes, series,
  graphic: { elements: graphics }
});
</script>
</body>
</html>
